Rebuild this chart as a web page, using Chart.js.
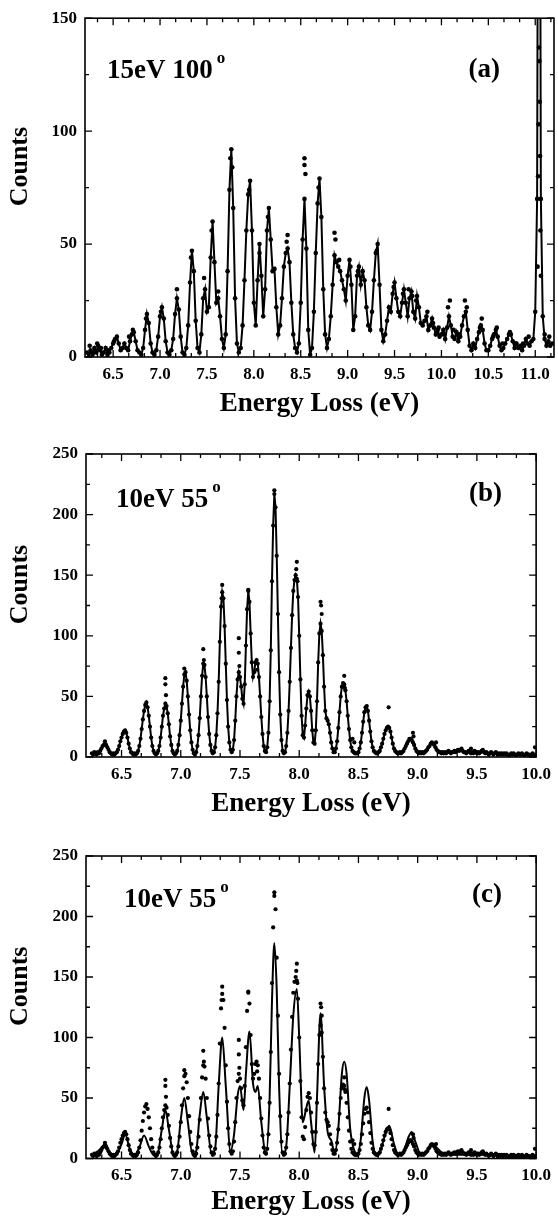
<!DOCTYPE html>
<html>
<head>
<meta charset="utf-8">
<script src="https://cdn.jsdelivr.net/npm/chart.js@4.4.1/dist/chart.umd.min.js"></script>
<style>
  html, body { margin: 0; padding: 0; background: #fff; }
  #wrap { position: relative; width: 558px; height: 1218px; }
  canvas { position: absolute; left: 0; }
</style>
</head>
<body>
<div id="wrap">
  <canvas id="panelA" width="558" height="420" style="top:0px"></canvas>
  <canvas id="panelB" width="558" height="400" style="top:420px"></canvas>
  <canvas id="panelC" width="558" height="398" style="top:820px"></canvas>
</div>
<script>
const FONT = "'Liberation Serif', 'Times New Roman', serif";

// (a) 15 eV, 100 deg : channel start / width in eV, counts per channel
const aStart = 6.22, aStep = 0.02;
const aCounts = [
  2,0,3,1,4,2,5,3,1,2,
  4,1,2,4,6,8,9,6,3,4,
  6,4,3,7,10,11,7,3,2,1,
  4,12,19,15,6,2,1,3,9,18,
  22,17,7,2,1,3,8,19,26,21,
  9,2,1,4,14,33,47,38,16,4,
  2,10,26,30,20,22,44,60,42,24,
  26,18,8,4,10,38,74,92,66,26,
  6,2,4,14,34,56,72,78,56,24,
  14,34,50,36,18,30,56,66,52,38,
  39,22,10,14,26,40,46,48,42,24,
  10,4,2,6,24,52,70,48,12,1,
  4,20,46,68,79,62,30,10,4,8,
  18,32,45,42,40,38,34,30,25,36,
  43,32,12,18,36,40,32,38,34,22,
  14,12,20,34,46,50,32,12,7,10,
  16,22,20,28,33,26,20,18,24,30,
  24,18,26,29,20,17,27,22,15,14,
  16,18,12,14,17,13,10,12,9,10,
  12,8,13,18,14,9,8,11,7,9,
  14,18,20,12,5,3,6,4,8,11,
  14,12,6,3,3,5,8,10,12,9,
  5,3,4,6,8,10,10,7,4,6,
  4,5,3,5,8,6,5,7,8,20,
  70,420,70,18,8,5,7,5,6
];
// (a) scattered points lying off the main trace
const aExtraE = [6.25,6.29,6.33,6.37,6.45,6.51,6.67,6.71,6.85,7.01,7.18,7.33,7.47,7.55,7.62,7.75,7.77,7.95,8.06,8.15,
  8.36,8.35,8.54,8.54,8.55,8.69,8.86,8.87,8.91,9.03,9.11,9.31,9.49,9.59,9.65,9.69,9.73,9.85,9.91,9.97,
  10.03,10.07,10.09,10.13,10.19,10.25,10.27,10.43,10.41,10.55,10.59,10.65,10.73,10.79,10.87,10.93,
  11.025,11.03,11.035,11.04,11.045,11.048,11.052,11.055,11.06,11.1,11.15];
const aExtraCounts = [5,2,6,4,3,7,9,12,17,20,30,44,35,56,29,88,84,74,46,62,
  54,51,88,85,81,75,55,52,43,40,38,47,31,28,30,27,25,20,15,13,
  10,22,25,12,10,25,22,17,13,9,13,6,11,6,6,9,
  40,80,103,137,131,113,89,56,36,10,9];

// (b) and (c) 10 eV, 55 deg : the same measured spectrum
const bStart = 6.25, bStep = 0.01;
const bCounts = [
  3,2,4,3,2,4,3,5,7,9,
  10,11,10,8,6,4,3,2,3,2,
  3,4,6,9,13,16,19,21,22,20,
  16,11,7,4,3,2,3,2,3,5,
  9,15,23,31,38,43,45,41,34,25,
  16,9,5,3,2,3,5,9,16,25,
  34,40,44,42,36,27,17,10,5,3,
  2,3,5,10,18,30,44,58,68,70,
  63,50,35,22,12,6,3,2,4,9,
  18,32,50,67,77,76,66,50,33,19,
  10,5,3,4,8,18,36,62,95,124,
  136,131,108,77,47,25,12,6,4,6,
  14,30,50,64,70,66,58,48,44,60,
  92,122,137,128,102,78,66,70,78,80,
  77,66,50,33,19,9,5,4,8,20,
  46,88,145,191,217,206,166,118,70,35,
  14,5,3,4,9,20,38,62,90,117,
  137,146,150,147,132,100,64,34,18,16,
  26,40,51,54,50,38,22,12,11,22,
  46,78,102,110,104,84,58,38,32,30,
  27,20,12,7,4,4,7,13,24,37,
  50,58,61,60,55,46,34,23,14,8,
  5,4,3,3,3,4,7,12,20,29,
  37,41,42,38,30,21,13,8,5,4,
  3,3,4,5,8,11,15,19,22,24,
  25,24,21,16,11,7,5,4,3,3,
  4,3,4,5,7,9,11,13,15,15,
  14,12,10,7,5,4,3,4,3,4,
  3,4,5,6,8,9,11,12,11,10,
  8,6,5,4,4,3,4,3,4,3,
  4,5,4,3,4,4,5,4,5,6,
  5,6,7,5,4,4,3,4,5,4,
  3,4,3,5,4,3,4,3,4,5,
  6,4,3,4,3,2,3,4,3,2,
  3,4,3,2,3,2,3,2,3,2,
  3,2,1,2,3,2,3,2,1,2,
  3,2,2,3,2,1,2,3,2,2,
  1,2,3,2,1,2
];
const bExtraE = [6.36,6.87,6.87,6.875,7.03,7.19,7.195,7.35,7.345,7.49,7.49,7.495,7.57,7.645,7.79,
  7.98,7.975,7.985,8.18,8.185,8.19,8.38,8.385,8.45,8.465,8.755,8.96,8.965,9.155,9.45,9.99];
const bExtraCounts = [13,65,60,51,73,89,80,142,131,98,86,75,138,72,220,
  161,155,145,128,125,118,67,57,15,12,41,20,17,12,7,8];

// fitted curve shown in (c)
const cFitE = [6.25,6.30,6.35,6.40,6.45,6.50,6.53,6.57,6.61,6.65,6.69,6.73,6.77,6.80,6.84,6.87,6.90,6.94,6.97,7.00,
  7.03,7.06,7.10,7.13,7.16,7.19,7.22,7.26,7.29,7.32,7.35,7.38,7.42,7.45,7.48,7.50,7.53,7.55,7.58,7.61,
  7.63,7.65,7.68,7.72,7.75,7.77,7.79,7.81,7.83,7.86,7.89,7.92,7.95,7.98,8.00,8.03,8.06,8.08,8.10,8.13,
  8.15,8.18,8.21,8.24,8.27,8.30,8.33,8.36,8.38,8.40,8.43,8.46,8.49,8.52,8.55,8.57,8.59,8.62,8.65,8.68,
  8.72,8.76,8.80,8.84,8.88,8.92,8.95,8.98,9.03,9.08,9.13,9.17,9.22,9.40,9.60,9.80,10.00];
const cFitCounts = [3,6,10,5,3,12,20,8,3,9,19,10,3,3,24,40,24,3,6,32,
  50,30,3,6,36,55,34,4,8,60,100,60,6,20,52,60,40,70,105,62,
  55,60,30,3,50,130,178,140,60,3,10,60,118,140,100,30,42,48,30,5,
  50,120,60,22,15,4,25,70,80,70,25,8,4,16,50,59,48,14,3,5,
  18,27,12,3,5,17,22,14,3,6,12,8,4,3,3,2,2];

const xTicksA = [6.5,7.0,7.5,8.0,8.5,9.0,9.5,10.0,10.5,11.0];
const xTicksB = [6.5,7.0,7.5,8.0,8.5,9.0,9.5,10.0];
const yTicksA = [0,50,100,150];
const yTicksB = [0,50,100,150,200,250];

const grid = (start, step, counts) => counts.map((c, i) => ({ x: +(start + i * step).toFixed(3), y: c }));
const pairs = (xs, ys) => xs.map((x, i) => ({ x: x, y: ys[i] }));

const frame = {
  id: 'frame',
  afterDraw(chart, args, o) {
    const { ctx, chartArea: a, scales: { x, y } } = chart;
    ctx.save();
    ctx.strokeStyle = '#000';
    ctx.lineWidth = 1.6;
    ctx.strokeRect(a.left, a.top, a.right - a.left, a.bottom - a.top);
    ctx.lineWidth = 1.3;
    ctx.beginPath();
    for (let k = Math.ceil(x.min * 6 - 1e-6); k <= x.max * 6 + 1e-6; k++) {
      const px = x.getPixelForValue(k / 6);
      const len = k % 3 === 0 ? 7 : 4;
      ctx.moveTo(px, a.bottom); ctx.lineTo(px, a.bottom - len);
      ctx.moveTo(px, a.top); ctx.lineTo(px, a.top + len);
    }
    for (let v = 0; v <= y.max; v += 25) {
      const py = y.getPixelForValue(v);
      const len = v % 50 === 0 ? 7 : 4;
      ctx.moveTo(a.left, py); ctx.lineTo(a.left + len, py);
      ctx.moveTo(a.right, py); ctx.lineTo(a.right - len, py);
    }
    ctx.stroke();

    ctx.fillStyle = '#000';
    ctx.textBaseline = 'alphabetic';
    ctx.textAlign = 'left';
    ctx.font = 'bold 27px ' + FONT;
    ctx.fillText(o.label, o.labelX, o.labelY);
    const w = ctx.measureText(o.label).width;
    ctx.font = 'bold 17px ' + FONT;
    ctx.fillText('o', o.labelX + w + 4, o.labelY - 15);
    ctx.font = 'bold 27px ' + FONT;
    ctx.textAlign = 'right';
    ctx.fillText(o.tag, o.tagX, o.tagY);

    ctx.translate(20, (a.top + a.bottom) / 2 - 21);
    ctx.rotate(-Math.PI / 2);
    ctx.textAlign = 'center';
    ctx.textBaseline = 'middle';
    ctx.font = 'bold 26px ' + FONT;
    ctx.fillText('Counts', 0, 0);
    ctx.restore();
  }
};

function makePanel(id, p) {
  const dotStyle = { pointRadius: p.r, pointBackgroundColor: '#000', pointBorderWidth: 0, showLine: false };
  new Chart(document.getElementById(id), {
    type: 'scatter',
    data: {
      datasets: [
        { data: p.fit, showLine: true, pointRadius: 0, borderColor: '#000', borderWidth: 2,
          cubicInterpolationMode: p.smooth ? 'monotone' : 'default', tension: 0 },
        Object.assign({ data: p.dots }, dotStyle),
        Object.assign({ data: p.extra }, dotStyle)
      ]
    },
    options: {
      responsive: false,
      animation: false,
      events: [],
      layout: { padding: { top: p.padTop, right: p.padRight, left: 0, bottom: 0 } },
      plugins: {
        legend: { display: false },
        tooltip: { enabled: false },
        frame: p.text
      },
      scales: {
        x: {
          type: 'linear', min: p.xMin, max: p.xMax,
          grid: { display: false, drawTicks: false },
          border: { display: false },
          afterBuildTicks: s => { s.ticks = p.xTicks.map(v => ({ value: v })); },
          afterFit: s => { s.height = p.xH; },
          ticks: { padding: 7, color: '#000', maxRotation: 0, autoSkip: false,
            font: { family: FONT, size: 17, weight: 'bold' },
            callback: v => v.toFixed(1) },
          title: { display: true, text: 'Energy Loss (eV)', color: '#000', padding: 0,
            font: { family: FONT, size: 27, weight: 'bold' } }
        },
        y: {
          type: 'linear', min: 0, max: p.yMax,
          grid: { display: false, drawTicks: false },
          border: { display: false },
          afterBuildTicks: s => { s.ticks = p.yTicks.map(v => ({ value: v })); },
          afterFit: s => { s.width = p.left; },
          ticks: { padding: 8, color: '#000', font: { family: FONT, size: 17, weight: 'bold' },
            callback: v => String(v) }
        }
      }
    },
    plugins: [frame]
  });
}

const dotsA = grid(aStart, aStep, aCounts);
const dotsB = grid(bStart, bStep, bCounts);

makePanel('panelA', {
  dots: dotsA, fit: dotsA, extra: pairs(aExtraE, aExtraCounts), smooth: false, r: 2.3,
  xMin: 6.2, xMax: 11.2, yMax: 150, xTicks: xTicksA, yTicks: yTicksA,
  padTop: 17, padRight: 1, left: 85, xH: 63,
  text: { label: '15eV 100', labelX: 107, labelY: 78, tag: '(a)', tagX: 500, tagY: 77 }
});
makePanel('panelB', {
  dots: dotsB, fit: dotsB, extra: pairs(bExtraE, bExtraCounts), smooth: false, r: 2.1,
  xMin: 6.2, xMax: 10.0, yMax: 250, xTicks: xTicksB, yTicks: yTicksB,
  padTop: 34, padRight: 17, left: 86, xH: 63,
  text: { label: '10eV 55', labelX: 116, labelY: 507 - 420, tag: '(b)', tagX: 502, tagY: 501 - 420 }
});
makePanel('panelC', {
  dots: dotsB, fit: pairs(cFitE, cFitCounts), extra: pairs(bExtraE, bExtraCounts), smooth: true, r: 2.1,
  xMin: 6.2, xMax: 10.0, yMax: 250, xTicks: xTicksB, yTicks: yTicksB,
  padTop: 36, padRight: 17, left: 86, xH: 59.5,
  text: { label: '10eV 55', labelX: 124, labelY: 907 - 820, tag: '(c)', tagX: 502, tagY: 902 - 820 }
});
</script>
</body>
</html>
